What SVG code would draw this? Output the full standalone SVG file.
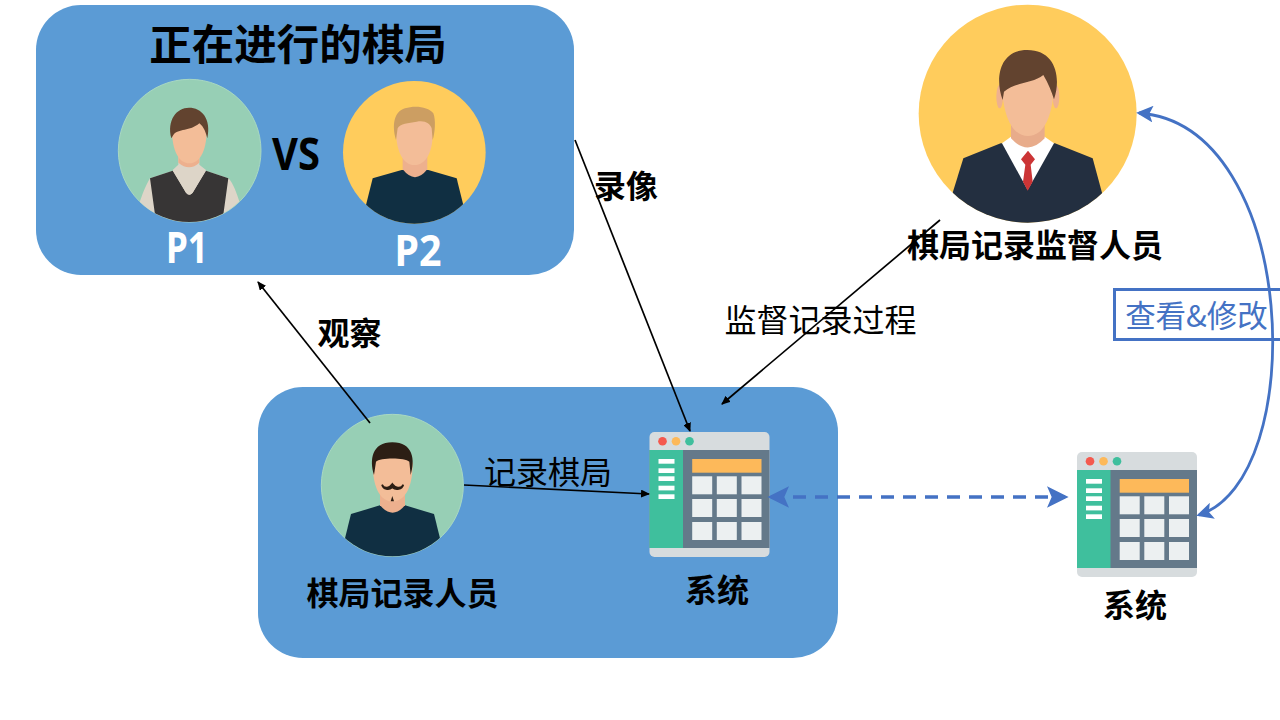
<svg xmlns="http://www.w3.org/2000/svg" xmlns:xlink="http://www.w3.org/1999/xlink" width="1280" height="720" viewBox="0 0 1280 720">
<style>
text{font-family:"Noto Sans CJK SC","Noto Sans",sans-serif;fill:#000}
.b{font-weight:700}
.lbl{font-size:32px;text-anchor:middle}
.pn{font-family:"Noto Sans",sans-serif;font-weight:700;font-size:43px;fill:#fff;text-anchor:middle}
.panel{fill:#5B9BD5}
.k{fill:none;stroke:#000;stroke-width:1.7;marker-end:url(#ah)}
.bl{fill:none;stroke:#4472C4;stroke-width:2.8}
</style>
<defs>
<marker id="ah" markerWidth="9" markerHeight="8" refX="8" refY="4" orient="auto" markerUnits="userSpaceOnUse" viewBox="0 0 9 8"><path d="M0 0L9 4L0 8Z" fill="#000"/></marker>
<marker id="bh" markerWidth="6" markerHeight="6" refX="5" refY="3" orient="auto-start-reverse" viewBox="0 0 6 6"><path d="M0 0L6 3L0 6L1.3 3Z" fill="#4472C4"/></marker>
<clipPath id="c1"><circle cx="268" cy="242" r="214"/></clipPath>
<clipPath id="c2"><circle cx="943" cy="247" r="214"/></clipPath>
<clipPath id="c3"><circle cx="247" cy="226" r="213"/></clipPath>
<clipPath id="c4"><circle cx="383" cy="341" r="327"/></clipPath>
<symbol id="win" viewBox="0 0 120 125" width="120" height="125" overflow="visible">
<rect width="120" height="125" rx="5" fill="#D7DCDE"/>
<rect y="18" width="120" height="98" fill="#64798A"/>
<rect y="18" width="33.500" height="98" fill="#3FBF9D"/>
<circle cx="13" cy="9.300" r="4.300" fill="#F4594E"/><circle cx="26.500" cy="9.300" r="4.300" fill="#FDB95A"/><circle cx="40" cy="9.300" r="4.300" fill="#3FBF9D"/>
<g fill="#fff"><rect x="9" y="27" width="16" height="4.700"/><rect x="9" y="36.300" width="16" height="4.700"/><rect x="9" y="44.300" width="16" height="4.700"/><rect x="9" y="53.700" width="16" height="4.700"/><rect x="9" y="62.300" width="16" height="4.700"/></g>
<rect x="42.700" y="27" width="69.300" height="13.700" fill="#FDB95A"/>
<g fill="#ECF0F1">
<rect x="42.700" y="44.300" width="20" height="18"/><rect x="67.300" y="44.300" width="20" height="18"/><rect x="92" y="44.300" width="20" height="18"/>
<rect x="42.700" y="67" width="20" height="18"/><rect x="67.300" y="67" width="20" height="18"/><rect x="92" y="67" width="20" height="18"/>
<rect x="42.700" y="90" width="20" height="18"/><rect x="67.300" y="90" width="20" height="18"/><rect x="92" y="90" width="20" height="18"/>
</g>
</symbol>
</defs>
<rect width="1280" height="720" fill="#fff"/>

<g id="game">
<rect class="panel" x="36" y="5" width="538" height="270" rx="45"/>
<text class="b" x="298" y="60" font-size="42.500" text-anchor="middle">正在进行的棋局</text>
<text x="296" y="170" class="b" font-size="44" text-anchor="middle" textLength="48" lengthAdjust="spacingAndGlyphs" style="font-family:'Noto Sans',sans-serif">VS</text>
<text class="pn" x="187" y="263" textLength="42" lengthAdjust="spacingAndGlyphs">P1</text>
<text class="pn" x="418" y="266" textLength="47" lengthAdjust="spacingAndGlyphs">P2</text>
</g>

<g id="player1" transform="translate(100 70) scale(.33333)">
<circle cx="269" cy="242" r="214" fill="#97CFB5" stroke="#A9D8C2" stroke-width="3"/>
<g clip-path="url(#c1)">
<path d="M150 325C135 350 125 380 118 400L175 470H365L420 400C410 370 400 340 385 325L318 302H218Z" fill="#DDD5C8"/>
<path d="M150 325L218 302L258 368Q268 380 278 368L318 302L385 325L365 470H170Z" fill="#373535"/>
<path d="M235 240V284L218 300L258 368Q268 380 278 368L318 300L298 284V240Z" fill="#DDD5C8"/>
<path d="M235 240V278Q268 305 298 278V240Z" fill="#EDB08E"/>
<path d="M216 180C216 245 238 280 268 280C298 280 320 245 320 180C310 140 226 140 216 180Z" fill="#F3BD98"/>
<path d="M214 205C200 150 230 113 267 113C304 113 335 145 322 205C318 190 312 170 298 160C270 185 235 175 220 195Z" fill="#62432F"/>
</g>
</g>

<g id="player2" transform="translate(100 70) scale(.33333)">
<circle cx="943" cy="247" r="214" fill="#FFCC5C"/>
<g clip-path="url(#c2)">
<path d="M798 405L818 325L905 300H985L1070 325L1090 405L1090 470H798Z" fill="#102F42"/>
<path d="M908 235V298Q945 345 982 298V235Z" fill="#EDB08E"/>
<path d="M888 170C886 245 910 285 943 285C978 285 1002 245 998 170C990 130 896 130 888 170Z" fill="#F3BD98"/>
<path d="M888 210C875 165 882 125 915 115C945 105 985 110 1000 130C1008 150 1005 190 998 210L995 175C990 160 975 150 950 155C925 160 900 160 893 175Z" fill="#CC9E62"/>
</g>
</g>

<g id="supervisor" transform="translate(900 0) scale(.33333)">
<circle cx="383" cy="341" r="327" fill="#FFCC5C"/>
<g clip-path="url(#c4)">
<path d="M158 578L190 475L302 430H465L578 475L606 578V680H158Z" fill="#232F40"/>
<path d="M306 430L333 410H434L462 430L383 570Z" fill="#fff"/>
<path d="M333 350V415Q383 470 434 415V350Z" fill="#E8AC8B"/>
<path d="M384 452L405 478L392 494L398 545L383 572L369 545L376 494L363 478Z" fill="#CC3536"/>
<ellipse cx="299" cy="290" rx="10" ry="35" fill="#EFB18F"/><ellipse cx="468" cy="290" rx="10" ry="35" fill="#EFB18F"/>
<path d="M305 230C305 345 335 408 384 408C433 408 463 345 462 230C450 170 320 170 305 230Z" fill="#F3BD98"/>
<path d="M308 300C285 240 295 150 382 150C465 150 485 230 462 298C455 275 445 250 430 225C400 250 350 245 312 275Z" fill="#62432F"/>
</g>
</g>

<g id="recorderPanel"><rect class="panel" x="258" y="387" width="580" height="271" rx="45"/></g>

<g id="recorder" transform="translate(310 410) scale(.33333)">
<circle cx="247" cy="226" r="213" fill="#97CFB5" stroke="#A9D8C2" stroke-width="3"/>
<g clip-path="url(#c3)">
<path d="M105 385L123 312L210 286H285L372 312L390 385V450H105Z" fill="#102F42"/>
<path d="M210 240V286Q248 330 285 286V240Z" fill="#EDB08E"/>
<path d="M188 160C188 240 215 275 247 275C280 275 308 240 308 160C298 125 198 125 188 160Z" fill="#F3BD98"/>
<path d="M192 195C178 150 185 97 247 97C310 97 316 150 302 195L298 155C285 142 210 142 198 155Z" fill="#2C1E14"/>
<path d="M216 224C224 240 240 232 247 222C254 232 272 240 280 224C276 238 258 242 247 232C236 242 220 238 216 224Z" fill="#2C1E14" stroke="#2C1E14" stroke-width="5"/>
<path d="M247 258L252 274H242Z" fill="#2C1E14"/>
</g>
</g>

<g id="system1"><use href="#win" x="649" y="432" width="121" height="125"/></g>
<g id="system2"><use href="#win" x="1077" y="452" width="120" height="125"/></g>

<g id="editBox">
<rect x="1114.500" y="289.500" width="170" height="50" fill="#fff" stroke="#4472C4" stroke-width="3"/>
<text x="1196.500" y="327" font-size="30.500" text-anchor="middle" style="fill:#4472C4">查看&amp;修改</text>
</g>

<g id="connectors">
<path class="k" d="M370 423L258 282"/>
<path class="k" d="M575 140L690 431"/>
<path class="k" d="M940 220L722 404"/>
<path class="k" d="M464 485L649 494"/>
<path class="bl" d="M771 497H1065" style="stroke-width:3.600;stroke-dasharray:13 9;marker-start:url(#bh);marker-end:url(#bh)"/>
<path class="bl" d="M1139 113C1300 125 1310 480 1199 515" style="marker-start:url(#bh);marker-end:url(#bh)"/>
</g>

<g id="labels">
<text class="lbl b" x="626" y="198">录像</text>
<text class="lbl b" x="349.500" y="345">观察</text>
<text class="lbl" x="820.500" y="332">监督记录过程</text>
<text class="lbl" x="548" y="484">记录棋局</text>
<text class="lbl b" x="402.500" y="605">棋局记录人员</text>
<text class="lbl b" x="717" y="602">系统</text>
<text class="lbl b" x="1135" y="617">系统</text>
<text class="lbl b" x="1035" y="257">棋局记录监督人员</text>
</g>
</svg>
